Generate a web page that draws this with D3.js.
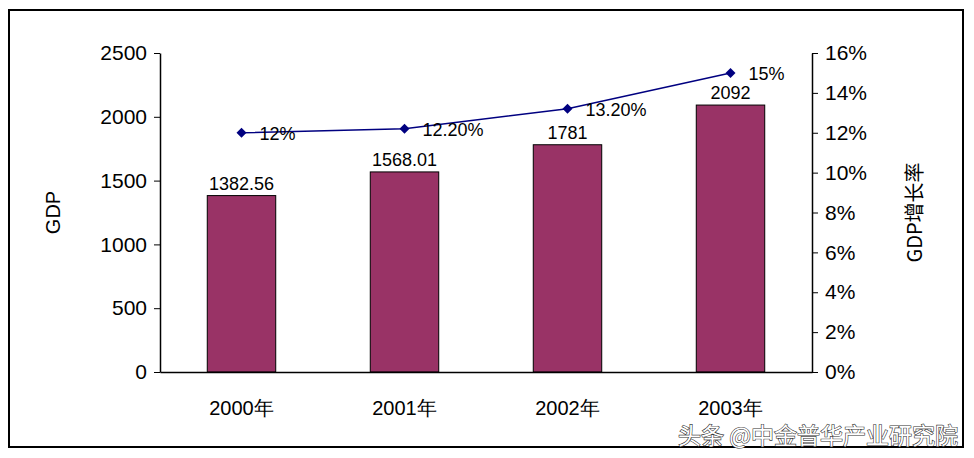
<!DOCTYPE html>
<html><head><meta charset="utf-8">
<script src="https://cdn.jsdelivr.net/npm/d3@7"></script>
<style>body{margin:0;background:#fff}text{font-family:"Liberation Sans",Arial,sans-serif}</style>
</head><body><svg id="c" width="974" height="458"></svg>
<script>
const categories=["2000年","2001年","2002年","2003年"];
const gdp=[1382.56,1568.01,1781,2092];
const gdpLabels=["1382.56","1568.01","1781","2092"];
const growth=[0.12,0.122,0.132,0.15];
const growthLabels=["12%","12.20%","13.20%","15%"];
const leftTicks=[0,500,1000,1500,2000,2500];
const rightTicks=[0,0.02,0.04,0.06,0.08,0.10,0.12,0.14,0.16];

const svg=d3.select("#c");
svg.append("rect").attr("x",9).attr("y",10).attr("width",954).attr("height",437).attr("fill","#fff").attr("stroke","#000").attr("stroke-width",2);
const L=160,R=812,T=53,B=372;
const x=d3.scaleBand().domain(categories).range([L,R]).paddingInner(0.58).paddingOuter(0.29);
const y=d3.scaleLinear().domain([0,2500]).range([B,T]);
const y2=d3.scaleLinear().domain([0,0.16]).range([B,T]);

svg.append("g").selectAll("rect").data(gdp).join("rect")
 .attr("x",(d,i)=>x(categories[i])).attr("y",d=>y(d)).attr("width",x.bandwidth()).attr("height",d=>B-y(d))
 .attr("fill","#993366").attr("stroke","#000").attr("stroke-width",1);
svg.append("g").selectAll("text").data(gdp).join("text")
 .attr("x",(d,i)=>x(categories[i])+x.bandwidth()/2).attr("y",d=>y(d)-6).attr("text-anchor","middle")
 .attr("font-size",18).text((d,i)=>gdpLabels[i]);

const ax=svg.append("g").attr("transform",`translate(${L},0)`).call(d3.axisLeft(y).tickValues(leftTicks).tickSize(6).tickSizeOuter(0).tickFormat(d3.format("d")));
ax.selectAll("text").attr("font-size",21).attr("dx","-4");
const ar=svg.append("g").attr("transform",`translate(${R},0)`).call(d3.axisRight(y2).tickValues(rightTicks).tickSize(6).tickSizeOuter(0).tickFormat(d=>Math.round(d*100)+"%"));
ar.selectAll("text").attr("font-size",21).attr("dx","4");
const ab=svg.append("g").attr("transform",`translate(0,${B})`).call(d3.axisBottom(x).tickSize(0));
ab.selectAll("text").attr("font-size",20).attr("dy","2em");
svg.selectAll(".domain").attr("stroke","#000").attr("stroke-width",1.5);
svg.selectAll(".tick line").attr("stroke","#000");

const cx=(d,i)=>x(categories[i])+x.bandwidth()/2;
svg.append("path").datum(growth).attr("fill","none").attr("stroke","#000080").attr("stroke-width",1.5)
 .attr("d",d3.line().x(cx).y(d=>y2(d)));
svg.append("g").selectAll("path").data(growth).join("path")
 .attr("d",d3.symbol(d3.symbolSquare,50)).attr("fill","#000080")
 .attr("transform",(d,i)=>`translate(${cx(d,i)},${y2(d)}) rotate(45)`);
svg.append("g").selectAll("text").data(growth).join("text")
 .attr("x",(d,i)=>cx(d,i)+18).attr("y",d=>y2(d)+7).attr("font-size",18).text((d,i)=>growthLabels[i]);

svg.append("text").attr("transform",`translate(60,${(T+B)/2}) rotate(-90)`).attr("text-anchor","middle").attr("font-size",20).text("GDP");
svg.append("text").attr("transform",`translate(922,${(T+B)/2}) rotate(-90)`).attr("text-anchor","middle").attr("font-size",20)
 .style("font-family","'Noto Sans CJK SC',sans-serif").text("GDP增长率");
svg.append("text").attr("x",958).attr("y",444).attr("text-anchor","end").attr("font-size",23)
 .style("font-family","'Noto Sans CJK SC',sans-serif").attr("fill","#fff").attr("stroke","#333").attr("stroke-width",1.2).attr("paint-order","stroke")
 .text("头条 @中金普华产业研究院");
</script></body></html>
